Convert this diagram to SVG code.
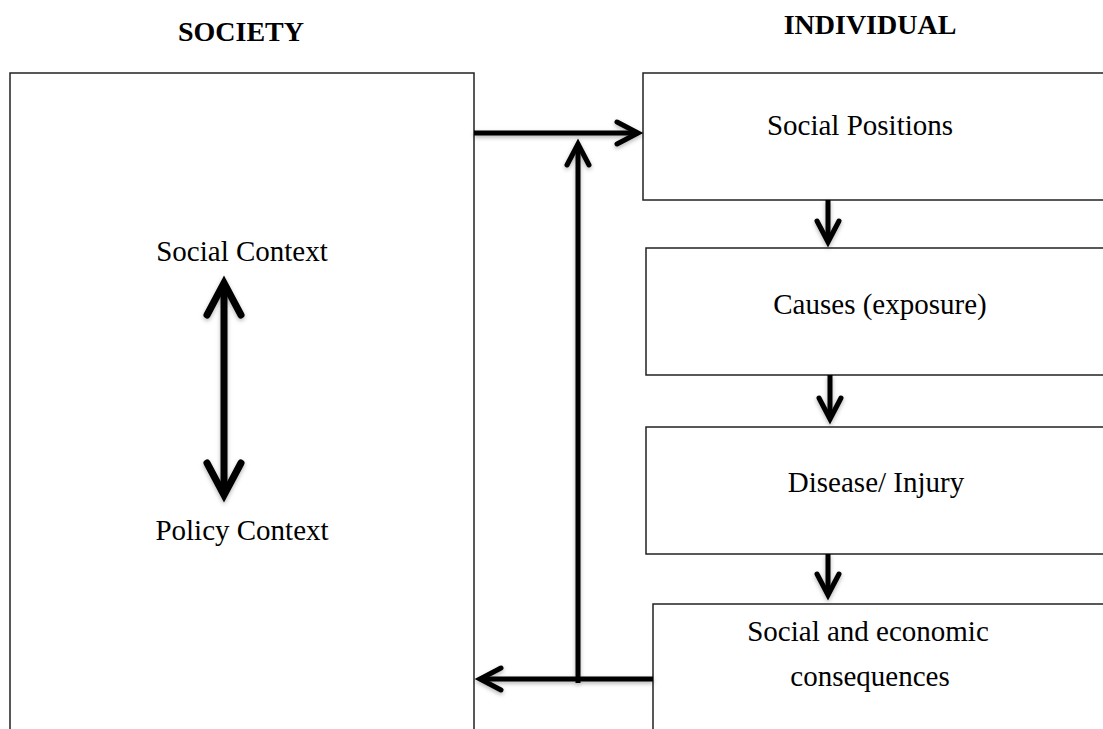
<svg xmlns="http://www.w3.org/2000/svg" width="1103" height="729" viewBox="0 0 1103 729">
  <style>
    .box { fill: #ffffff; stroke: #222222; stroke-width: 1.5; }
    .head { font-family: "Liberation Serif", "Times New Roman", serif; font-size: 28px; font-weight: bold; fill: #000000; text-anchor: middle; }
    .label { font-family: "Liberation Serif", "Times New Roman", serif; font-size: 29px; fill: #000000; text-anchor: middle; }
    .conn { fill: none; stroke: #000000; stroke-width: 5; stroke-linecap: butt; }
    .thick { stroke-width: 7; }
  </style>
  <defs>
    <filter id="shadow" x="-20%" y="-20%" width="140%" height="140%">
      <feDropShadow dx="0" dy="2" stdDeviation="2" flood-color="#000000" flood-opacity="0.3"/>
    </filter>
    <!-- open chevron head, tip at the marker origin -->
    <marker id="chev" viewBox="-40 -25 50 50" refX="0" refY="0" markerWidth="50" markerHeight="50" markerUnits="userSpaceOnUse" orient="auto-start-reverse" overflow="visible">
      <path d="M -21 -11 L 0 0 L -21 11" fill="none" stroke="#000000" stroke-width="5" stroke-linecap="round" stroke-linejoin="miter"/>
    </marker>
    <marker id="chevBig" viewBox="-40 -25 50 50" refX="0" refY="0" markerWidth="50" markerHeight="50" markerUnits="userSpaceOnUse" orient="auto-start-reverse" overflow="visible">
      <path d="M -32 -17 L 0 0 L -32 17" fill="none" stroke="#000000" stroke-width="7" stroke-linecap="round" stroke-linejoin="miter"/>
    </marker>
  </defs>

  <rect width="1103" height="729" fill="#ffffff"/>

  <!-- column headings -->
  <text class="head" x="241" y="41">SOCIETY</text>
  <text class="head" x="870" y="34">INDIVIDUAL</text>

  <!-- society side -->
  <g id="society">
    <rect class="box" x="10" y="73" width="464" height="680"/>
    <text class="label" x="242" y="261">Social Context</text>
    <text class="label" x="242" y="540">Policy Context</text>
  </g>

  <!-- individual side -->
  <g id="social-positions">
    <rect class="box" x="643" y="73" width="480" height="127"/>
    <text class="label" x="860" y="135">Social Positions</text>
  </g>
  <g id="causes">
    <rect class="box" x="646" y="248" width="480" height="127"/>
    <text class="label" x="880" y="314">Causes (exposure)</text>
  </g>
  <g id="disease">
    <rect class="box" x="646" y="427" width="480" height="127"/>
    <text class="label" x="876" y="492">Disease/ Injury</text>
  </g>
  <g id="consequences">
    <rect class="box" x="653" y="604" width="480" height="160"/>
    <text class="label" x="868" y="641">Social and economic</text>
    <text class="label" x="870" y="686">consequences</text>
  </g>

  <!-- connectors -->
  <g id="connectors" filter="url(#shadow)">
    <line class="conn" x1="474" y1="133" x2="638" y2="133" marker-end="url(#chev)"/>
    <line class="conn" x1="578" y1="683" x2="578" y2="144" marker-end="url(#chev)"/>
    <line class="conn" x1="653" y1="679" x2="480" y2="679" marker-end="url(#chev)"/>
    <line class="conn thick" x1="224" y1="283" x2="224" y2="495" marker-start="url(#chevBig)" marker-end="url(#chevBig)"/>
    <line class="conn" x1="828" y1="200" x2="828" y2="242" marker-end="url(#chev)"/>
    <line class="conn" x1="830" y1="375" x2="830" y2="419" marker-end="url(#chev)"/>
    <line class="conn" x1="828" y1="554" x2="828" y2="595" marker-end="url(#chev)"/>
  </g>
</svg>
